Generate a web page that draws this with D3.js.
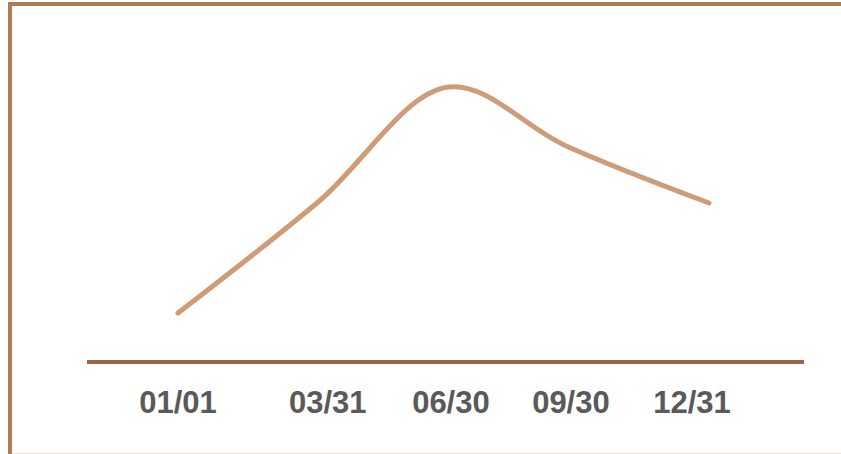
<!DOCTYPE html>
<html>
<head>
<meta charset="utf-8">
<script src="https://cdn.jsdelivr.net/npm/d3@7"></script>
<style>
  html, body { margin: 0; padding: 0; background: #ffffff; }
  svg { display: block; }
</style>
</head>
<body>
<script>
// Position of each point along the year (0 = Jan 1, 100 = Dec 31)
const pointPos = [0, 26.4, 50.9, 73.1, 100];
// Series values
const values = [9.8, 32, 55, 43.2, 31.8];
// Date labels under the axis and where they sit along the year
const tickLabels = ["01/01", "03/31", "06/30", "09/30", "12/31"];
const tickPos = [0, 28.2, 51.4, 74.0, 96.8];

const W = 841, H = 454;
const svg = d3.select("body").append("svg")
  .attr("width", W).attr("height", H);

const x = d3.scaleLinear().domain([0, 100]).range([178, 709]);
const y = d3.scaleLinear().domain([0, 70]).range([362, 12]);

// Frame
svg.append("rect")
  .attr("x", 10).attr("y", 4)
  .attr("width", 1000).attr("height", 1000)
  .attr("fill", "none")
  .attr("stroke", "#b27b57")
  .attr("stroke-width", 4);
svg.append("line")
  .attr("x1", 12).attr("x2", W)
  .attr("y1", 453.5).attr("y2", 453.5)
  .attr("stroke", "#e9dfd8").attr("stroke-width", 1);

// Baseline axis
svg.append("line")
  .attr("x1", 87).attr("x2", 804)
  .attr("y1", y(0)).attr("y2", y(0))
  .attr("stroke", "#9b6448")
  .attr("stroke-width", 4);

// Date labels
svg.append("g")
  .selectAll("text")
  .data(tickLabels)
  .join("text")
  .attr("x", (d, i) => x(tickPos[i]))
  .attr("y", 413)
  .attr("text-anchor", "middle")
  .attr("font-family", "'Liberation Sans', Arial, sans-serif")
  .attr("font-weight", "bold")
  .attr("font-size", 31)
  .attr("fill", "#5a5a5a")
  .text(d => d);

// Series line
const line = d3.line()
  .x((d, i) => x(pointPos[i]))
  .y(d => y(d))
  .curve(d3.curveCatmullRom.alpha(0.5));

svg.append("path")
  .datum(values)
  .attr("d", line)
  .attr("fill", "none")
  .attr("stroke", "#cf9c78")
  .attr("stroke-width", 5)
  .attr("stroke-linecap", "round")
  .attr("stroke-linejoin", "round");
</script>
</body>
</html>
